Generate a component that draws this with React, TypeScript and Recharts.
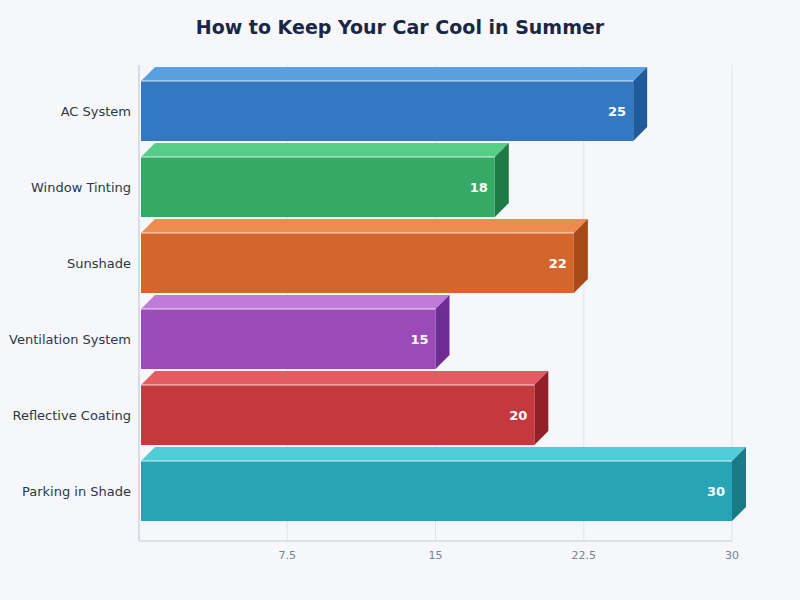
import React from 'react';
import { BarChart, Bar, XAxis, YAxis, CartesianGrid, LabelList } from 'recharts';

const categories = ['AC System', 'Window Tinting', 'Sunshade', 'Ventilation System', 'Reflective Coating', 'Parking in Shade'];
const values = [25, 18, 22, 15, 20, 30];
const xTicks = [7.5, 15, 22.5, 30];

const frontColors = ['#3478c1', '#36a967', '#d4662d', '#9a4bb8', '#c5383e', '#27a5b4'];
const topColors = ['#5a9fe0', '#56cd88', '#ee8b4f', '#c07ad9', '#e35c61', '#4fcdd8'];
const sideColors = ['#1f5a9b', '#1f7b45', '#a84a18', '#6f2c92', '#921f29', '#187c87'];

const data = categories.map((name, i) => ({ name, value: values[i] }));

const DEPTH = 14;
const INSET = 2;

const Box3D = (props: any) => {
  const { y, height, index } = props;
  const x = props.x + INSET;
  const width = props.width - INSET;
  const d = DEPTH;
  const fy = y + d;
  const fh = height - d;
  const top = `${x},${fy} ${x + d},${y} ${x + width + d},${y} ${x + width},${fy}`;
  const side = `${x + width},${fy} ${x + width + d},${y} ${x + width + d},${y + height - d} ${x + width},${y + height}`;
  return (
    <g>
      <polygon points={top} fill={topColors[index]} />
      <polygon points={side} fill={sideColors[index]} />
      <rect x={x} y={fy} width={width} height={fh} fill={frontColors[index]} />
      <line x1={x} y1={fy} x2={x + width} y2={fy} stroke="#ffffff" strokeOpacity={0.8} strokeWidth={1} />
    </g>
  );
};

const ValueLabel = (props: any) => {
  const { x, y, width, height, value } = props;
  const fy = y + DEPTH;
  const fh = height - DEPTH;
  return (
    <text
      x={x + width - 7}
      y={fy + fh / 2}
      textAnchor="end"
      dominantBaseline="central"
      fill="#ffffff"
      fontSize={13}
      fontWeight="bold"
      fontFamily="DejaVu Sans"
    >
      {value}
    </text>
  );
};

const CategoryTick = (props: any) => {
  const { x, y, payload } = props;
  return (
    <text
      x={x}
      y={y + DEPTH / 2}
      textAnchor="end"
      dominantBaseline="central"
      fill="#2d3748"
      fontSize={13}
      fontFamily="DejaVu Sans"
    >
      {payload.value}
    </text>
  );
};

export default function App() {
  return (
    <div style={{ position: 'absolute', left: 0, top: 0, width: 800, height: 600, background: '#f5f7fb', fontFamily: 'DejaVu Sans' }}>
      <div style={{ position: 'absolute', top: 16, left: 0, width: 800, textAlign: 'center', fontSize: 19, fontWeight: 'bold', color: '#1a2744' }}>
        How to Keep Your Car Cool in Summer
      </div>
      <BarChart
        width={800}
        height={600}
        data={data}
        layout="vertical"
        margin={{ top: 65, right: 68, bottom: 29, left: 0 }}
      >
        <CartesianGrid horizontal={false} stroke="#dfe3ea" />
        <XAxis
          type="number"
          domain={[0, 30]}
          ticks={xTicks}
          tickLine={false}
          axisLine={{ stroke: '#c9ccd3' }}
          tick={{ fill: '#7b8190', fontSize: 11, fontFamily: 'DejaVu Sans' }}
          tickMargin={4}
        />
        <YAxis
          type="category"
          dataKey="name"
          width={139}
          padding={{ top: 1, bottom: 19 }}
          tickLine={false}
          axisLine={{ stroke: '#c9ccd3' }}
          tick={CategoryTick}
        />
        <Bar dataKey="value" barSize={74} shape={Box3D} isAnimationActive={false}>
          <LabelList dataKey="value" content={ValueLabel} />
        </Bar>
      </BarChart>
    </div>
  );
}
